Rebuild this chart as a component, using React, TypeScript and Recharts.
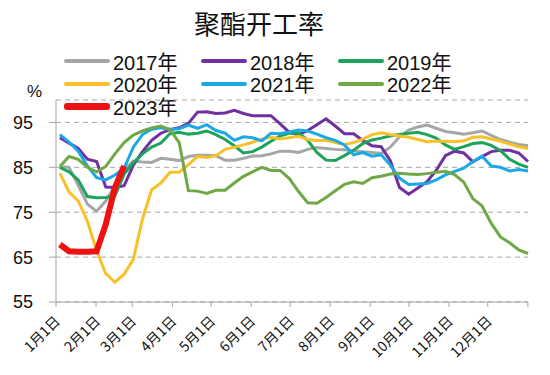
import { LineChart, Line, XAxis, YAxis, CartesianGrid } from "recharts";

// 每周一个点，横轴为一年中的第几天
const DAYS = Array.from({ length: 52 }, (_, i) => 3 + i * 7.1);

const y2017 = [85.2, 85, 81, 76.8, 75.2, 77.5, 81, 84.5, 86.4, 86.2, 86.1, 87, 86.8, 86.5, 87.4, 87.7, 87.7, 87.6, 86.6, 86.6, 87, 87.5, 87.6, 88, 88.6, 88.6, 88.3, 89, 89.4, 89.2, 89, 88.9, 88.7, 88.5, 88.3, 88.1, 89.5, 91.8, 93.3, 94, 94.4, 93.7, 93, 92.7, 92.4, 92.7, 93.1, 92.1, 91.2, 90.6, 90.1, 89.8];
const y2018 = [91.6, 90.4, 89.2, 86.8, 86.3, 80.6, 80.5, 80.9, 85.5, 88.5, 91, 92.6, 93.4, 93.8, 94.8, 97.3, 97.4, 97, 97.1, 97.7, 97, 96.5, 96.5, 96.5, 94.7, 92.8, 92.3, 93.2, 94.5, 95.8, 94.2, 92.5, 92.5, 91, 89.8, 89.6, 86.5, 80.5, 79, 80.4, 81.8, 84.3, 87.6, 88.6, 88.2, 86.2, 87.4, 88.5, 88.8, 88.8, 88.2, 86.3];
const y2019 = [85, 84, 82.2, 78.5, 78.2, 78.3, 78.7, 83.5, 86, 88, 89.5, 90.4, 92.5, 92.8, 92.4, 92.6, 93.1, 92.3, 91.2, 89.8, 88.2, 88.5, 89.5, 90.8, 92, 92.6, 92.7, 91, 88.3, 86.6, 86.5, 87.6, 88.8, 90.3, 91.1, 91.5, 92, 92.3, 92.6, 92.8, 92.3, 91.5, 90, 89, 89.6, 90.3, 90.5, 89.9, 88.7, 86.8, 85.7, 85];
const y2020 = [83.7, 79.5, 77.5, 73, 66.5, 61.3, 59.4, 61.2, 64.5, 73.5, 80, 81.5, 83.9, 83.9, 85.6, 87.4, 87.2, 87.6, 89, 89.5, 90, 90.6, 91.3, 91.7, 91.3, 91.6, 91.9, 91.2, 91, 91, 90.5, 90.1, 90.5, 91.3, 92.3, 92.7, 92.3, 92, 91.7, 91.2, 90.7, 90.8, 90.8, 90.7, 90.9, 91.7, 91.8, 91.3, 90.8, 90.2, 89.6, 89.2];
const y2021 = [92.3, 90.6, 88.6, 85.3, 82.7, 82.2, 83.3, 84.8, 89.5, 92.3, 93.5, 93.8, 93.5, 93.6, 94.4, 93.7, 94.5, 93.2, 92.6, 91, 91.8, 91.6, 90.9, 92.6, 92.5, 92.9, 93.3, 93.1, 92.4, 91.6, 91, 90, 87.8, 88.3, 87.5, 87.8, 85.5, 82.6, 81.2, 81.3, 81.4, 82.2, 83.3, 84.1, 84.8, 86.3, 87.5, 85.3, 85, 84.2, 84.5, 84.2];
const y2022 = [85.2, 87.4, 86.8, 85, 84, 85.2, 88, 90.5, 92.2, 93.1, 93.8, 94.2, 93.4, 90.5, 79.8, 79.7, 79.2, 79.9, 79.9, 81.5, 83, 84, 85, 84.3, 84.3, 82.5, 79.6, 77.1, 77, 78.3, 79.8, 81.2, 81.8, 81.4, 82.7, 83, 83.5, 83.7, 83.5, 83.4, 83.6, 83.9, 84.1, 83.4, 81.7, 78, 76.4, 72.5, 69.5, 68.2, 66.6, 65.8];
const y2023 = [67.8, 66.3, 66.2, 66.2, 66.3, 72.3, 80.5, 85.3];

const MONTH_DAYS = [0, 31, 59, 90, 120, 151, 181, 212, 243, 273, 304, 334, 365];
const MONTH_LABELS = ["1月1日", "2月1日", "3月1日", "4月1日", "5月1日", "6月1日", "7月1日", "8月1日", "9月1日", "10月1日", "11月1日", "12月1日"];
const Y_TICKS = [55, 65, 75, 85, 95];

const SERIES = [
  { key: "y2017", name: "2017年", color: "#a6a6a6", width: 3 },
  { key: "y2018", name: "2018年", color: "#7030a0", width: 3 },
  { key: "y2019", name: "2019年", color: "#1ca45a", width: 3 },
  { key: "y2020", name: "2020年", color: "#f7c12a", width: 3 },
  { key: "y2021", name: "2021年", color: "#1aa9e6", width: 3 },
  { key: "y2022", name: "2022年", color: "#70a845", width: 3 },
  { key: "y2023", name: "2023年", color: "#ee1111", width: 6 },
];

const values: Record<string, number[]> = { y2017, y2018, y2019, y2020, y2021, y2022, y2023 };

const data = DAYS.map((day, i) => {
  const row: Record<string, number | undefined> = { day };
  for (const s of SERIES) row[s.key] = values[s.key][i];
  return row;
});

const FONT = "'Liberation Sans', 'Noto Sans CJK SC', sans-serif";

function MonthTick({ x, y, payload }: any) {
  const idx = MONTH_DAYS.indexOf(payload.value);
  const label = MONTH_LABELS[idx];
  if (!label) return null;
  return (
    <g transform={`translate(${x + 5},${y + 13})`}>
      <text x={0} y={0} textAnchor="end" transform="rotate(-45)" fontSize={14} fill="#111" fontFamily="'Noto Sans CJK SC', sans-serif">
        {label}
      </text>
    </g>
  );
}

export default function App() {
  return (
    <div style={{ position: "relative", width: 542, height: 367, background: "#fff" }}>
      <div style={{ position: "absolute", left: 0, width: 502, top: 0, textAlign: "center", fontSize: 26, fontFamily: "'Noto Sans CJK SC', sans-serif", color: "#111", lineHeight: "30px" }}>
        聚酯开工率
      </div>
      {SERIES.map((s, i) => (
        <div
          key={s.key}
          style={{
            position: "absolute",
            left: 56 + (i % 3) * 137,
            top: 42 + Math.floor(i / 3) * 22.5,
            display: "flex",
            alignItems: "center",
            fontFamily: FONT,
            fontSize: 20,
            color: "#111",
            height: 22,
          }}
        >
          <span style={{ display: "inline-block", width: 46, height: s.width + 1, background: s.color, borderRadius: 3, marginRight: 3 }} />
          <span>{s.name}</span>
        </div>
      ))}
      <div style={{ position: "absolute", left: 19, top: 74, fontFamily: FONT, fontSize: 17, color: "#111" }}>%</div>
      <LineChart width={542} height={367} data={data} margin={{ top: 92, right: 22, bottom: 13, left: 0 }}>
        <CartesianGrid vertical={false} stroke="#a6a6a6" strokeDasharray="5 4" />
        <XAxis
          dataKey="day"
          type="number"
          domain={[0, 365]}
          ticks={MONTH_DAYS}
          interval={0}
          tick={<MonthTick />}
          tickSize={5}
          height={60}
          axisLine={{ stroke: "#a6a6a6" }}
          tickLine={{ stroke: "#a6a6a6" }}
        />
        <YAxis
          domain={[55, 100]}
          ticks={Y_TICKS}
          width={48}
          tickSize={7}
          tickMargin={16}
          axisLine={{ stroke: "#a6a6a6" }}
          tickLine={{ stroke: "#a6a6a6" }}
          tick={{ fontSize: 18, fill: "#111", fontFamily: FONT }}
        />
        {SERIES.map((s) => (
          <Line
            key={s.key}
            dataKey={s.key}
            name={s.name}
            type="linear"
            stroke={s.color}
            strokeWidth={s.width}
            dot={false}
            isAnimationActive={false}
            connectNulls={false}
          />
        ))}
      </LineChart>
    </div>
  );
}
